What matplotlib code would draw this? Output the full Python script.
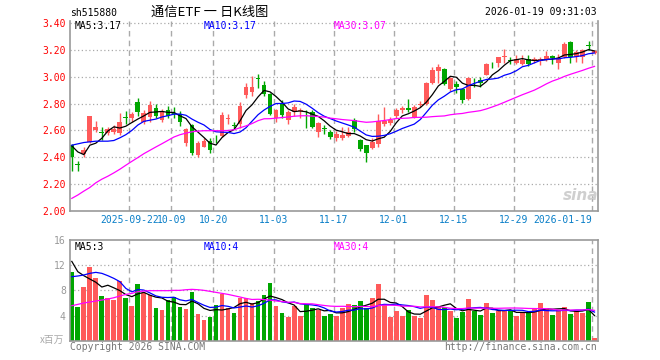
import numpy as np
import pandas as pd
import matplotlib
matplotlib.use("Agg")
import matplotlib.pyplot as plt
import matplotlib.transforms as mtransforms

# daily candles, 2025-09-08 .. 2026-01-19 (88 trading days)
opens = [2.49, 2.35, 2.425, 2.515, 2.604, 2.59, 2.58, 2.59, 2.58, 2.70,
         2.69, 2.81, 2.665, 2.70, 2.77, 2.675, 2.75, 2.73, 2.72, 2.505,
         2.637, 2.42, 2.48, 2.525, 2.545, 2.558, 2.685, 2.64, 2.65, 2.865,
         2.885, 2.99, 2.935, 2.87, 2.69, 2.80, 2.68, 2.735, 2.745, 2.725,
         2.74, 2.587, 2.615, 2.587, 2.545, 2.545, 2.562, 2.674, 2.526, 2.49,
         2.471, 2.50, 2.645, 2.655, 2.704, 2.755, 2.77, 2.70, 2.79, 2.80,
         2.95, 3.04, 3.06, 2.905, 2.945, 2.905, 2.835, 2.955, 2.975, 3.015,
         3.09, 3.10, 3.15, 3.125, 3.10, 3.095, 3.13, 3.115, 3.115, 3.13,
         3.155, 3.10, 3.15, 3.26, 3.145, 3.145, 3.235, 3.175]
closes = [2.40, 2.34, 2.455, 2.705, 2.626, 2.583, 2.61, 2.61, 2.66, 2.695,
          2.72, 2.74, 2.728, 2.79, 2.71, 2.74, 2.705, 2.725, 2.665, 2.607,
          2.435, 2.505, 2.525, 2.452, 2.54, 2.713, 2.69, 2.635, 2.78, 2.925,
          2.925, 2.985, 2.875, 2.726, 2.75, 2.715, 2.735, 2.775, 2.75, 2.72,
          2.625, 2.655, 2.61, 2.55, 2.57, 2.565, 2.587, 2.612, 2.459, 2.432,
          2.515, 2.67, 2.672, 2.675, 2.753, 2.77, 2.75, 2.775, 2.80, 2.955,
          3.05, 3.075, 2.946, 2.99, 2.92, 2.83, 2.99, 2.95, 2.95, 3.095,
          3.085, 3.145, 3.155, 3.12, 3.13, 3.125, 3.095, 3.135, 3.13, 3.155,
          3.14, 3.14, 3.245, 3.15, 3.185, 3.20, 3.23, 3.195]
highs = [2.50, 2.37, 2.48, 2.71, 2.67, 2.624, 2.626, 2.643, 2.73, 2.745,
         2.74, 2.84, 2.755, 2.82, 2.80, 2.76, 2.78, 2.775, 2.745, 2.62,
         2.645, 2.52, 2.54, 2.54, 2.565, 2.74, 2.72, 2.66, 2.81, 2.95,
         3.005, 3.02, 2.965, 2.88, 2.76, 2.83, 2.75, 2.80, 2.77, 2.755,
         2.755, 2.665, 2.64, 2.60, 2.595, 2.625, 2.625, 2.695, 2.538, 2.49,
         2.54, 2.72, 2.775, 2.70, 2.768, 2.785, 2.835, 2.79, 2.82, 2.96,
         3.07, 3.095, 3.065, 3.00, 2.97, 2.915, 3.00, 2.99, 3.00, 3.10,
         3.11, 3.15, 3.205, 3.145, 3.165, 3.16, 3.16, 3.15, 3.145, 3.19,
         3.165, 3.17, 3.255, 3.265, 3.20, 3.21, 3.265, 3.20]
lows = [2.30, 2.295, 2.40, 2.51, 2.59, 2.53, 2.564, 2.572, 2.564, 2.645,
        2.66, 2.71, 2.645, 2.665, 2.69, 2.665, 2.69, 2.69, 2.63, 2.484,
        2.42, 2.40, 2.475, 2.43, 2.51, 2.55, 2.65, 2.61, 2.62, 2.84,
        2.86, 2.915, 2.86, 2.715, 2.665, 2.69, 2.645, 2.71, 2.69, 2.615,
        2.615, 2.55, 2.575, 2.535, 2.525, 2.53, 2.55, 2.587, 2.447, 2.365,
        2.464, 2.48, 2.635, 2.64, 2.694, 2.73, 2.735, 2.69, 2.775, 2.79,
        2.945, 2.95, 2.94, 2.89, 2.88, 2.805, 2.825, 2.925, 2.925, 3.01,
        3.065, 3.07, 3.10, 3.095, 3.095, 3.09, 3.08, 3.10, 3.09, 3.115,
        3.095, 3.06, 3.14, 3.10, 3.11, 3.10, 3.20, 3.17]
# volume, millions
volumes = [10.9, 5.35, 8.53, 11.7, 9.96, 7.1, 6.78, 6.46, 9.48, 6.78,
           5.51, 9.0, 7.63, 7.26, 5.19, 4.87, 6.41, 6.94, 5.4, 5.03,
           7.73, 4.24, 3.28, 3.76, 5.67, 7.42, 5.14, 4.4, 6.78, 6.78,
           5.99, 6.3, 7.26, 9.17, 5.51, 4.4, 3.76, 5.51, 3.92, 5.83,
           5.19, 4.87, 3.92, 4.24, 3.92, 5.19, 5.83, 5.67, 6.3, 5.19,
           6.78, 9.0, 5.67, 3.76, 4.72, 3.92, 4.87, 3.92, 3.6, 7.26,
           6.46, 5.51, 5.35, 4.72, 3.6, 4.56, 6.62, 4.72, 4.08, 5.99,
           4.4, 4.72, 4.72, 4.72, 3.92, 4.4, 4.56, 5.19, 5.99, 5.19,
           4.08, 4.87, 5.35, 4.24, 4.72, 4.4, 6.15, 0.42]

# moving-average values before the window is full
ma5_head = [2.485, 2.44, 2.42, 2.49]
ma10_head = [2.49, 2.50, 2.51, 2.515, 2.52, 2.52, 2.52, 2.525, 2.545]
ma30_head = [2.094, 2.119, 2.148, 2.175, 2.21, 2.237, 2.259, 2.284, 2.311, 2.341,
             2.37, 2.398, 2.427, 2.452, 2.477, 2.501, 2.526, 2.551, 2.568, 2.58,
             2.59, 2.595, 2.598, 2.598, 2.598, 2.598, 2.60, 2.605, 2.62]
vol_ma5_head = [12.6, 10.97, 10.33, 9.8]
vol_ma10_head = [10.17, 10.28, 10.44, 10.7, 10.86, 10.7, 10.33, 9.9, 9.38]
vol_ma30_head = [5.56, 5.77, 5.99, 6.15, 6.3, 6.46, 6.62, 6.83, 7.1, 7.36,
                 7.52, 7.79, 7.89, 7.95, 7.95, 7.95, 7.95, 8.0, 8.0, 8.1,
                 8.16, 8.1, 8.0, 7.84, 7.68, 7.52, 7.36, 7.15, 6.94]

date_labels = ["2025-09-22", "10-09", "10-20", "11-03", "11-17",
               "12-01", "12-15", "12-29", "2026-01-19"]
date_index = [10, 17, 24, 34, 44, 54, 64, 74, 87]
price_ticks = [2.00, 2.20, 2.40, 2.60, 2.80, 3.00, 3.20, 3.40]
vol_ticks = [4, 8, 12, 16]

RED = "#ff5a5a"
GREEN = "#00a600"
MONO = "DejaVu Sans Mono"
CJK = ["Noto Sans CJK SC", "DejaVu Sans"]


def moving_average(values, window, head):
    ma = pd.Series(values).rolling(window).mean().to_numpy()
    ma[:window - 1] = head
    return ma


def px(x, y):
    return x / 660, 1 - y / 360


n = len(closes)
x = np.arange(n)
o = np.array(opens)
c = np.array(closes)
colors = [RED if c[i] >= o[i] else GREEN for i in range(n)]

fig = plt.figure(figsize=(6.6, 3.6), dpi=100)
ax = fig.add_axes([70 / 660, 149 / 360, 528 / 660, 190 / 360])
axv = fig.add_axes([70 / 660, 19.3 / 360, 528 / 660, 100.7 / 360])

# candles
ax.vlines(x, lows, highs, colors=colors, linewidth=1)
body = np.maximum(np.abs(c - o), 0.006)
ax.bar(x, body, bottom=np.minimum(o, c), width=0.8, color=colors, linewidth=0)

ax.plot(x, moving_average(closes, 5, ma5_head), color="black", lw=0.9)
ax.plot(x, moving_average(closes, 10, ma10_head), color="#0000ff", lw=0.9)
ax.plot(x, moving_average(closes, 30, ma30_head), color="#ff00ff", lw=0.9)

# volume
axv.bar(x, volumes, width=0.8, color=colors, linewidth=0)
axv.plot(x, moving_average(volumes, 5, vol_ma5_head), color="black", lw=0.9)
axv.plot(x, moving_average(volumes, 10, vol_ma10_head), color="#0000ff", lw=0.9)
axv.plot(x, moving_average(volumes, 30, vol_ma30_head), color="#ff00ff", lw=0.9)

grid_x = np.array(date_index) - 0.42
for a in (ax, axv):
    a.set_xlim(-0.3, n - 0.42)
    for g in grid_x:
        a.axvline(g, color="#aaaaaa", lw=1, ls=(0, (4, 3)), zorder=0)
    a.set_xticks([])
    a.tick_params(axis="y", length=0, pad=3)
    for s in a.spines.values():
        s.set_color("#999999")
        s.set_linewidth(1.2)

ax.set_ylim(2.0, 3.415)
ax.set_yticks(price_ticks)
ax.set_yticklabels([f"{t:.2f}" for t in price_ticks], color="red",
                   fontfamily=MONO, fontsize=7)
for t in price_ticks[1:]:
    ax.axhline(t, color="#aaaaaa", lw=0.9, ls=(0, (1, 2)), zorder=0)
ax.spines["top"].set_visible(False)

axv.set_ylim(0, 16)
axv.set_yticks(vol_ticks)
axv.set_yticklabels([str(t) for t in vol_ticks], color="#999999",
                    fontfamily=MONO, fontsize=7)
for t in vol_ticks[:-1]:
    axv.axhline(t, color="#aaaaaa", lw=0.9, ls=(0, (1, 2)), zorder=0)

# date labels under the price panel
trans = mtransforms.blended_transform_factory(ax.transData, ax.transAxes)
for k, (g, lab) in enumerate(zip(grid_x, date_labels)):
    ha = "right" if k == len(date_labels) - 1 else "center"
    ax.text(g, -0.047, lab, transform=trans, ha=ha, va="center",
            color="#0a7fc8", fontfamily=MONO, fontsize=7)

# header and labels
fig.text(*px(70, 13), "sh515880", ha="left", va="center", fontfamily=MONO, fontsize=7)
fig.text(*px(210, 12), "通信ETF 一 日K线图", ha="center", va="center",
         family=CJK, fontsize=9.5)
fig.text(*px(597, 12), "2026-01-19 09:31:03", ha="right", va="center",
         fontfamily=MONO, fontsize=7)

fig.text(*px(75, 26), "MA5:3.17", color="black", va="center", fontfamily=MONO, fontsize=7)
fig.text(*px(204, 26), "MA10:3.17", color="#0000ff", va="center", fontfamily=MONO, fontsize=7)
fig.text(*px(334, 26), "MA30:3.07", color="#ff00ff", va="center", fontfamily=MONO, fontsize=7)
fig.text(*px(75, 247), "MA5:3", color="black", va="center", fontfamily=MONO, fontsize=7)
fig.text(*px(204, 247), "MA10:4", color="#0000ff", va="center", fontfamily=MONO, fontsize=7)
fig.text(*px(334, 247), "MA30:4", color="#ff00ff", va="center", fontfamily=MONO, fontsize=7)

fig.text(*px(64, 340), "x百万", color="#aaaaaa", ha="right", va="center",
         family=CJK, fontsize=7)
fig.text(*px(70, 347), "Copyright 2026 SINA.COM", color="#777777", ha="left",
         va="center", fontfamily=MONO, fontsize=7)
fig.text(*px(597, 347), "http://finance.sina.com.cn", color="#777777", ha="right",
         va="center", fontfamily=MONO, fontsize=7)
fig.text(*px(581, 195), "sina", color="#cfcfcf", ha="center", va="center",
         fontsize=11, style="italic", weight="bold")

fig.savefig("out.png", dpi=100, facecolor="white")
